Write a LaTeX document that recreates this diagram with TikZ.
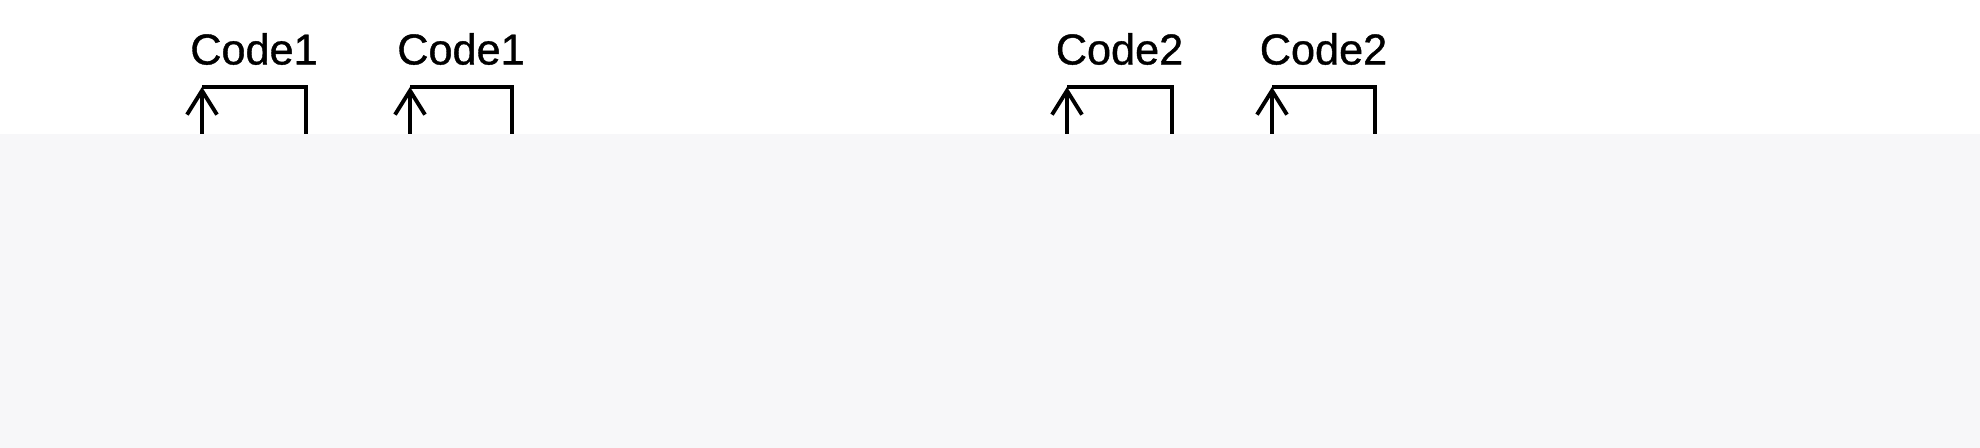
\documentclass[tikz,border=0pt]{standalone}
\usepackage{fontspec}
\setmainfont{Liberation Sans}
\newfontfamily\codefont[FakeBold=0.9]{Liberation Sans}
\usetikzlibrary{arrows.meta}
\definecolor{veil}{RGB}{247,247,249}
\tikzset{
  codelabel/.style={font=\codefont\fontsize{12.3pt}{14pt}\selectfont, inner sep=0pt, anchor=center},
  feed/.style={line width=1.1pt, -{Straight Barb[length=2.4mm,width=3.0mm,line width=1.1pt]}},
  ret/.style={line width=1.1pt},
}
\begin{document}
\begin{tikzpicture}[x=1cm,y=1cm]
\useasboundingbox (0,0) rectangle (19.8,4.48);
% loop brackets: left x, right x
\foreach \n/\l/\r/\t in {a/2.02/3.06/Code1, b/4.10/5.12/Code1, c/10.67/11.72/Code2, d/12.72/13.75/Code2}{
  \coordinate (\n lb) at (\l,3.14);
  \coordinate (\n lt) at (\l,3.61);
  \coordinate (\n rt) at (\r,3.61);
  \coordinate (\n rb) at (\r,3.14);
  \node[codelabel] (\n txt) at ({(\l+\r)/2},3.99) {\t};
  \draw[ret] (\n rb) -- (\n rt) -- (\n lt);
  \draw[feed] (\n lb) -- (\n lt);
}
% occluding light area
\fill[veil] (0,0) rectangle (19.8,3.14);
\end{tikzpicture}
\end{document}
